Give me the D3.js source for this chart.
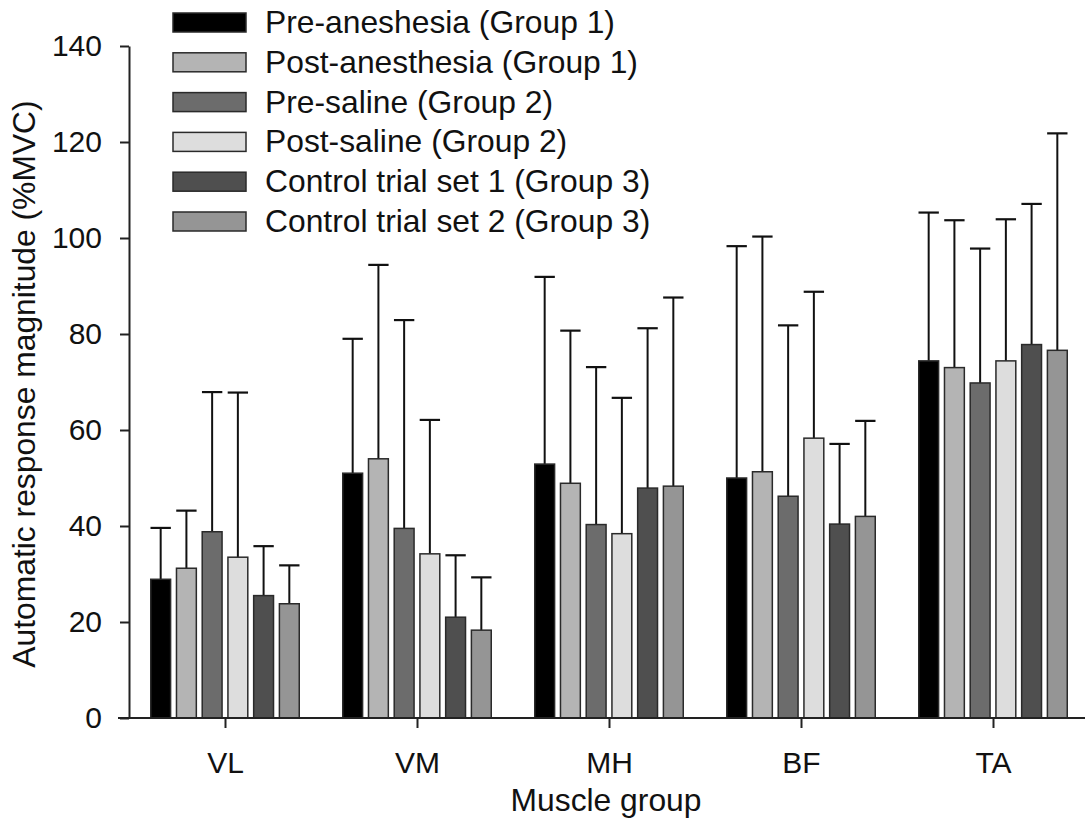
<!DOCTYPE html>
<html>
<head>
<meta charset="utf-8">
<script src="https://cdn.jsdelivr.net/npm/d3@7"></script>
<style>
  html, body { margin: 0; padding: 0; background: #fff; }
  svg { display: block; }
  text { font-family: "Liberation Sans", Arial, sans-serif; fill: #111; }
</style>
</head>
<body>
<svg id="chart" width="1087" height="818"></svg>
<script>
const categories = ["VL", "VM", "MH", "BF", "TA"];
const seriesNames = [
  "Pre-aneshesia (Group 1)",
  "Post-anesthesia (Group 1)",
  "Pre-saline (Group 2)",
  "Post-saline (Group 2)",
  "Control trial set 1 (Group 3)",
  "Control trial set 2 (Group 3)"
];
const seriesColors = ["#000000", "#b4b4b4", "#6c6c6c", "#dddddd", "#4f4f4f", "#959595"];

// mean values per series, in category order VL, VM, MH, BF, TA
const preAnesthesia  = [28.9, 51.0, 52.9, 50.0, 74.4];
const postAnesthesia = [31.2, 54.0, 48.9, 51.3, 73.0];
const preSaline      = [38.8, 39.5, 40.3, 46.2, 69.8];
const postSaline     = [33.5, 34.2, 38.4, 58.3, 74.4];
const control1       = [25.5, 21.0, 47.9, 40.4, 77.8];
const control2       = [23.8, 18.3, 48.3, 42.0, 76.6];

// upper end of error bars (mean + SD)
const preAnesthesiaErr  = [39.6, 79.0, 91.9, 98.3, 105.3];
const postAnesthesiaErr = [43.2, 94.4, 80.7, 100.3, 103.7];
const preSalineErr      = [67.9, 82.9, 73.1, 81.8, 97.8];
const postSalineErr     = [67.8, 62.1, 66.7, 88.8, 103.9];
const control1Err       = [35.8, 33.9, 81.2, 57.1, 107.1];
const control2Err       = [31.8, 29.3, 87.6, 61.9, 121.8];

const yTicks = [0, 20, 40, 60, 80, 100, 120, 140];

const means = [preAnesthesia, postAnesthesia, preSaline, postSaline, control1, control2];
const errs  = [preAnesthesiaErr, postAnesthesiaErr, preSalineErr, postSalineErr, control1Err, control2Err];

const svg = d3.select("#chart");

const y = d3.scaleLinear().domain([0, 140]).range([718, 46]);
const x0 = d3.scalePoint().domain(categories).range([225, 993]);
const x1 = d3.scaleBand().domain(d3.range(seriesNames.length)).range([-75, 75]).paddingInner(0.17);

const data = [];
categories.forEach((c, ci) => {
  seriesNames.forEach((s, si) => {
    data.push({cat: c, si: si, v: means[si][ci], e: errs[si][ci]});
  });
});

const bw = x1.bandwidth();

// error bars (drawn first so bars cover their lower ends)
const eb = svg.append("g");
eb.selectAll("line.stem").data(data).join("line")
  .attr("x1", d => x0(d.cat) + x1(d.si) + bw / 2)
  .attr("x2", d => x0(d.cat) + x1(d.si) + bw / 2)
  .attr("y1", d => y(d.v))
  .attr("y2", d => y(d.e))
  .attr("stroke", "#111").attr("stroke-width", 2);
eb.selectAll("line.cap").data(data).join("line")
  .attr("x1", d => x0(d.cat) + x1(d.si) + 0.5)
  .attr("x2", d => x0(d.cat) + x1(d.si) + bw - 0.5)
  .attr("y1", d => y(d.e))
  .attr("y2", d => y(d.e))
  .attr("stroke", "#111").attr("stroke-width", 2.2);

// bars
svg.append("g").selectAll("rect").data(data).join("rect")
  .attr("x", d => x0(d.cat) + x1(d.si) + 0.75)
  .attr("width", bw - 1.5)
  .attr("y", d => y(d.v))
  .attr("height", d => y(0) - y(d.v))
  .attr("fill", d => seriesColors[d.si])
  .attr("stroke", "#2a2a2a")
  .attr("stroke-width", 1.5);

// y axis
const yAxis = svg.append("g").attr("transform", "translate(129,0)")
  .call(d3.axisLeft(y).tickValues(yTicks).tickSize(9).tickPadding(18).tickSizeOuter(0));
yAxis.select(".domain").attr("stroke", "#222").attr("stroke-width", 2);
yAxis.selectAll(".tick line").attr("stroke", "#222").attr("stroke-width", 2);
yAxis.selectAll(".tick text").style("font-size", "30px").style("font-family", "'Liberation Sans', Arial, sans-serif").attr("fill", "#111");

// x axis
const xAxis = svg.append("g").attr("transform", "translate(0,718)")
  .call(d3.axisBottom(x0).tickSize(10).tickPadding(24).tickSizeOuter(0));
xAxis.select(".domain").remove();
xAxis.selectAll(".tick line").attr("stroke", "#222").attr("stroke-width", 2);
xAxis.selectAll(".tick text").style("font-size", "30px").style("font-family", "'Liberation Sans', Arial, sans-serif").attr("fill", "#111");
svg.append("line")
  .attr("x1", 118).attr("x2", 1085)
  .attr("y1", y(0)).attr("y2", y(0))
  .attr("stroke", "#222").attr("stroke-width", 2);

// axis titles
svg.append("text")
  .attr("transform", "translate(35,384) rotate(-90)")
  .attr("text-anchor", "middle")
  .style("font-size", "31.8px")
  .text("Automatic response magnitude (%MVC)");
svg.append("text")
  .attr("x", 606).attr("y", 811)
  .attr("text-anchor", "middle")
  .style("font-size", "31.8px")
  .text("Muscle group");

// legend
const legend = svg.append("g").selectAll("g").data(seriesNames).join("g")
  .attr("transform", (d, i) => `translate(173,${13 + i * 39.8})`);
legend.append("rect")
  .attr("width", 73).attr("height", 19)
  .attr("fill", (d, i) => seriesColors[i])
  .attr("stroke", "#2a2a2a").attr("stroke-width", 1.5);
legend.append("text")
  .attr("x", 92).attr("y", 20)
  .style("font-size", "31.8px")
  .text(d => d);
</script>
</body>
</html>
